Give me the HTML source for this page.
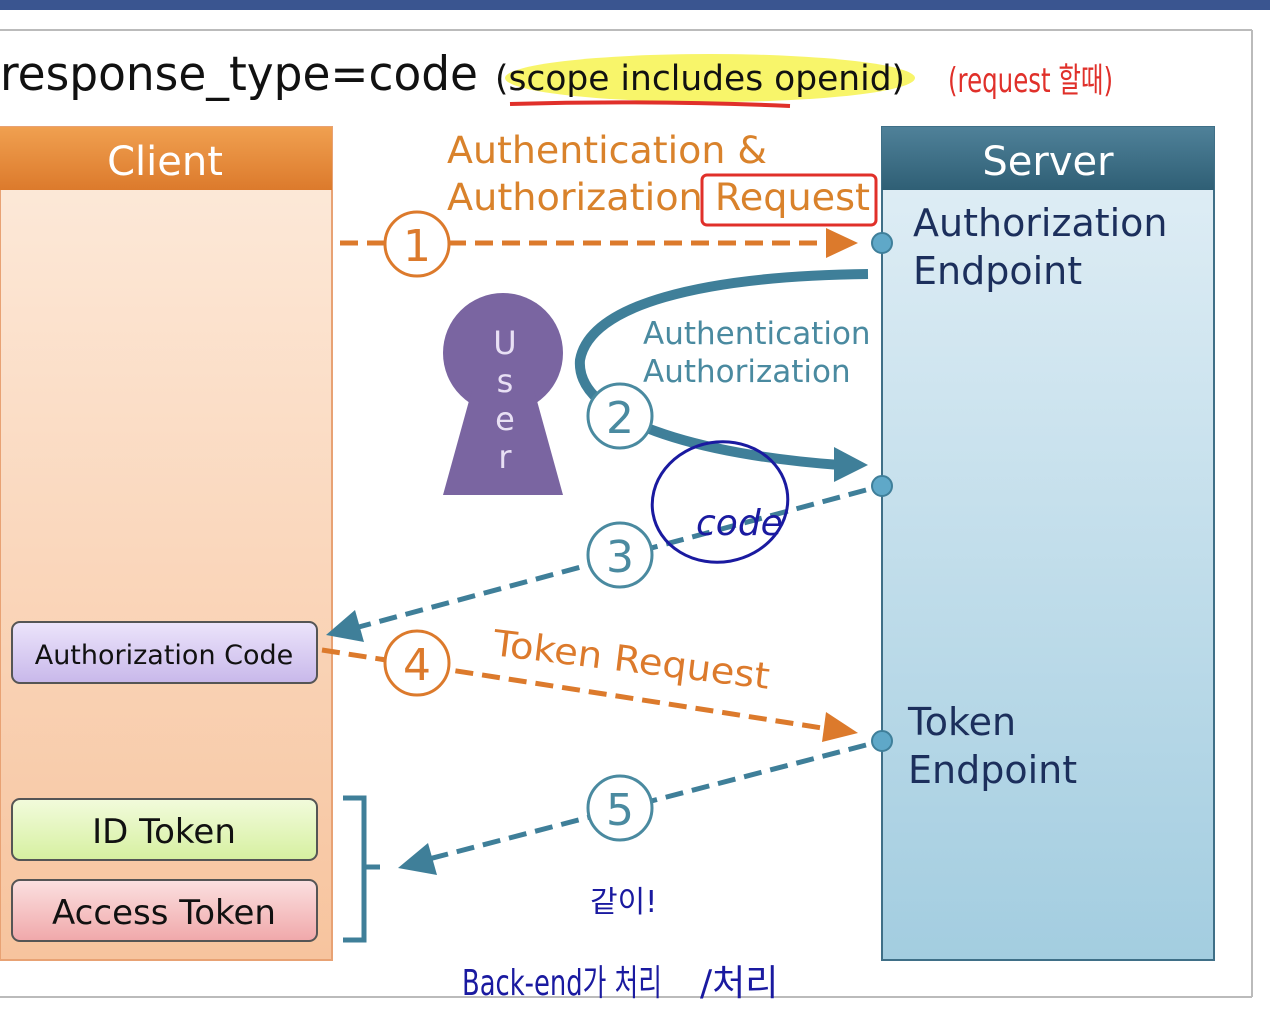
<!DOCTYPE html>
<html><head><meta charset="utf-8"><style>
html,body{margin:0;padding:0;background:#fff;}
svg{display:block;}
text{font-family:"DejaVu Sans","Liberation Sans","Noto Sans CJK KR",sans-serif;}
</style></head><body>
<svg width="1270" height="1023" viewBox="0 0 1270 1023" xmlns="http://www.w3.org/2000/svg">
<defs>
<linearGradient id="ch" x1="0" y1="0" x2="0" y2="1"><stop offset="0" stop-color="#f0a050"/><stop offset="1" stop-color="#dc7a2c"/></linearGradient>
<linearGradient id="cb" x1="0" y1="0" x2="0" y2="1"><stop offset="0" stop-color="#fdebdc"/><stop offset="1" stop-color="#f7c49e"/></linearGradient>
<linearGradient id="sh" x1="0" y1="0" x2="0" y2="1"><stop offset="0" stop-color="#4f8199"/><stop offset="1" stop-color="#2f5f75"/></linearGradient>
<linearGradient id="sb" x1="0" y1="0" x2="0" y2="1"><stop offset="0" stop-color="#e2eff6"/><stop offset="1" stop-color="#a3cde0"/></linearGradient>
<linearGradient id="ac" x1="0" y1="0" x2="0" y2="1"><stop offset="0" stop-color="#ece4fb"/><stop offset="1" stop-color="#c8b8ea"/></linearGradient>
<linearGradient id="idt" x1="0" y1="0" x2="0" y2="1"><stop offset="0" stop-color="#f2fbdc"/><stop offset="1" stop-color="#d6f0a0"/></linearGradient>
<linearGradient id="at" x1="0" y1="0" x2="0" y2="1"><stop offset="0" stop-color="#fbe0e0"/><stop offset="1" stop-color="#f0a8aa"/></linearGradient>
</defs>
<rect x="0" y="0" width="1270" height="10" fill="#3a5590"/>
<line x1="0" y1="30" x2="1252" y2="30" stroke="#bbb" stroke-width="2"/>
<line x1="1252" y1="30" x2="1252" y2="997" stroke="#bbb" stroke-width="2"/>
<line x1="0" y1="997" x2="1252" y2="997" stroke="#bbb" stroke-width="2"/>

<ellipse cx="710" cy="78" rx="205" ry="24" fill="#f8f56a"/>
<text x="0" y="90" font-size="47" fill="#111" textLength="478" lengthAdjust="spacingAndGlyphs">response_type=code</text>
<text x="495" y="90" font-size="35" fill="#111" textLength="410" lengthAdjust="spacingAndGlyphs">(scope includes openid)</text>
<path d="M510 104 Q650 100 790 106" stroke="#e0302a" stroke-width="4" fill="none"/>
<text x="948" y="92" font-size="34" fill="#e0302a" textLength="165" lengthAdjust="spacingAndGlyphs" font-family="Noto Sans CJK KR,sans-serif">(request 할때)</text>

<rect x="0" y="127" width="332" height="833" fill="url(#cb)" stroke="#e8a274" stroke-width="2"/>
<rect x="0" y="127" width="332" height="63" fill="url(#ch)"/>
<text x="165" y="175" font-size="40" fill="#fff" text-anchor="middle">Client</text>

<rect x="882" y="127" width="332" height="833" fill="url(#sb)" stroke="#3f6f87" stroke-width="2"/>
<rect x="882" y="127" width="332" height="63" fill="url(#sh)"/>
<text x="1048" y="175" font-size="40" fill="#fff" text-anchor="middle">Server</text>
<text x="913" y="236" font-size="38" fill="#1c2f5c">Authorization</text>
<text x="913" y="284" font-size="38" fill="#1c2f5c">Endpoint</text>
<text x="908" y="735" font-size="38" fill="#1c2f5c">Token</text>
<text x="908" y="783" font-size="38" fill="#1c2f5c">Endpoint</text>

<text x="447" y="163" font-size="37" fill="#d9822b" textLength="320" lengthAdjust="spacingAndGlyphs">Authentication &amp;</text>
<text x="447" y="210" font-size="37" fill="#d9822b" textLength="423" lengthAdjust="spacingAndGlyphs">Authorization Request</text>
<rect x="702" y="175" width="174" height="50" rx="5" fill="none" stroke="#e0302a" stroke-width="3"/>

<line x1="340" y1="243" x2="832" y2="243" stroke="#dc7a2c" stroke-width="5" stroke-dasharray="18,9"/>
<polygon points="826,228 858,243 826,258" fill="#dc7a2c"/>
<circle cx="417" cy="244" r="32" fill="#fff" stroke="#dc7a2c" stroke-width="3"/>
<text x="417" y="261" font-size="44" fill="#dc7a2c" text-anchor="middle">1</text>

<circle cx="503" cy="353" r="60" fill="#7a65a1"/>
<polygon points="472,390 534,390 563,495 443,495" fill="#7a65a1"/>
<text x="505" y="354" font-size="32" fill="#e8e0f4" text-anchor="middle">U</text>
<text x="505" y="392" font-size="32" fill="#e8e0f4" text-anchor="middle">s</text>
<text x="505" y="430" font-size="32" fill="#e8e0f4" text-anchor="middle">e</text>
<text x="505" y="468" font-size="32" fill="#e8e0f4" text-anchor="middle">r</text>

<path d="M868 274 C700 276 590 305 580 360 C575 420 700 455 840 465" stroke="#3f7f99" stroke-width="10" fill="none"/>
<polygon points="834,447 868,465 834,482" fill="#3f7f99"/>
<text x="643" y="344" font-size="31" fill="#4a8aa0">Authentication</text>
<text x="643" y="382" font-size="31" fill="#4a8aa0">Authorization</text>
<circle cx="620" cy="416" r="32" fill="#fff" stroke="#4a8aa0" stroke-width="3"/>
<text x="620" y="433" font-size="44" fill="#4a8aa0" text-anchor="middle">2</text>

<circle cx="882" cy="243" r="10" fill="#5fa8c8" stroke="#3f7f9a" stroke-width="2"/>
<circle cx="882" cy="486" r="10" fill="#5fa8c8" stroke="#3f7f9a" stroke-width="2"/>
<circle cx="882" cy="741" r="10" fill="#5fa8c8" stroke="#3f7f9a" stroke-width="2"/>

<line x1="866" y1="490" x2="355" y2="628" stroke="#3f7f99" stroke-width="5" stroke-dasharray="18,9"/>
<polygon points="326,635 355,610 364,642" fill="#3f7f99"/>
<circle cx="620" cy="555" r="32" fill="#fff" stroke="#4a8aa0" stroke-width="3"/>
<text x="620" y="572" font-size="44" fill="#4a8aa0" text-anchor="middle">3</text>

<rect x="12" y="622" width="305" height="61" rx="8" fill="url(#ac)" stroke="#555" stroke-width="2"/>
<text x="164" y="664" font-size="27" fill="#111" text-anchor="middle">Authorization Code</text>

<line x1="322" y1="650" x2="835" y2="730" stroke="#dc7a2c" stroke-width="5" stroke-dasharray="18,9"/>
<polygon points="826,712 858,733 822,742" fill="#dc7a2c"/>
<circle cx="417" cy="663" r="32" fill="#fff" stroke="#dc7a2c" stroke-width="3"/>
<text x="417" y="680" font-size="44" fill="#dc7a2c" text-anchor="middle">4</text>
<text x="492" y="655" font-size="36" fill="#dc7a2c" transform="rotate(7 492 655)" textLength="278" lengthAdjust="spacingAndGlyphs">Token Request</text>

<line x1="866" y1="745" x2="425" y2="860" stroke="#3f7f99" stroke-width="5" stroke-dasharray="18,9"/>
<polygon points="398,868 428,843 437,875" fill="#3f7f99"/>
<circle cx="620" cy="808" r="32" fill="#fff" stroke="#4a8aa0" stroke-width="3"/>
<text x="620" y="825" font-size="44" fill="#4a8aa0" text-anchor="middle">5</text>

<path d="M343 798 H364 V867 H380 M364 867 V940 H343" stroke="#3f7f99" stroke-width="5" fill="none"/>

<rect x="12" y="799" width="305" height="61" rx="8" fill="url(#idt)" stroke="#555" stroke-width="2"/>
<text x="164" y="843" font-size="34" fill="#111" text-anchor="middle">ID Token</text>
<rect x="12" y="880" width="305" height="61" rx="8" fill="url(#at)" stroke="#555" stroke-width="2"/>
<text x="164" y="924" font-size="34" fill="#111" text-anchor="middle">Access Token</text>

<ellipse cx="720" cy="502" rx="68" ry="60" fill="none" stroke="#1a1aa0" stroke-width="3" transform="rotate(-10 720 502)"/>
<text x="696" y="535" font-size="36" fill="#1a1aa0" font-style="italic" font-family="Liberation Serif,serif">code</text>
<text x="590" y="912" font-size="30" fill="#1a1aa0" font-family="Noto Sans CJK KR,sans-serif">같이!</text>
<text x="462" y="995" font-size="36" fill="#1a1aa0" font-family="Noto Sans CJK KR,sans-serif" textLength="200" lengthAdjust="spacingAndGlyphs">Back-end가 처리</text>
<text x="700" y="995" font-size="36" fill="#1a1aa0" font-family="Noto Sans CJK KR,sans-serif">/처리</text>
</svg>
</body></html>
